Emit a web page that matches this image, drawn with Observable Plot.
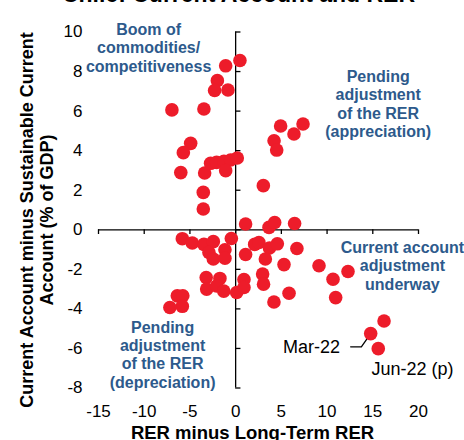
<!DOCTYPE html>
<html><head><meta charset="utf-8">
<script src="https://cdn.jsdelivr.net/npm/d3@7"></script>
<script src="https://cdn.jsdelivr.net/npm/@observablehq/plot@0.6"></script>
<style>body{margin:0;background:#fff}#chart svg{display:block}</style>
</head><body><div id="chart"></div>
<script>
// RER minus long-term RER (x) and CA minus sustainable CA (y)
const rerGap = [0.47,-1.09,-2.0,-2.3,-0.84,-6.97,-3.47,-4.92,-5.72,-6.0,-3.39,-2.74,-2.08,-1.28,-0.55,0.18,-1.09,-3.54,-3.54,
  4.92,7.37,6.38,4.2,4.49,3.03,1.09,3.65,4.27,6.45,
  -5.83,-4.74,-3.47,-2.44,-2.92,-1.17,-2.44,-1.17,-0.47,-3.22,-1.72,-3.17,-2.08,-1.3,0.11,-6.38,-5.78,-5.83,-7.19,
  1.09,2.08,2.55,3.7,4.56,6.7,3.25,5.29,9.12,12.29,10.65,10.94,0.91,0.91,2.95,3.05,5.84,4.19,16.23,14.77,15.6];
const caGap = [8.56,8.29,7.54,7.04,7.07,6.06,6.11,4.37,3.9,2.89,2.87,3.36,3.41,3.46,3.53,3.63,2.99,1.89,1.05,
  5.25,5.35,4.84,4.5,4.03,2.23,0.29,0.12,0.37,0.32,
  -0.45,-0.67,-0.74,-0.6,-1.15,-1.01,-1.48,-1.44,-0.44,-2.41,-2.46,-3.0,-2.84,-3.1,-3.17,-3.34,-3.34,-3.87,-3.93,
  -1.25,-0.74,-0.64,-0.92,-0.71,-0.95,-1.48,-1.76,-1.82,-2.11,-2.5,-3.43,-2.52,-2.92,-2.24,-2.75,-3.21,-3.65,-4.61,-5.25,-6.01];
const xTicks = [-15,-10,-5,0,5,10,15,20];
const yTicks = [-8,-6,-4,-2,0,2,4,6,8,10];

const quadText = ["Boom of\ncommodities/\ncompetitiveness","Pending\nadjustment\nof the RER\n(appreciation)","Current account\nadjustment\nunderway","Pending\nadjustment\nof the RER\n(depreciation)"];
const quadX = [-9.52, 15.59, 18.24, -7.99];
const quadY = [9.23, 6.38, -1.80, -6.30];

const marLabel = ["Mar-22"];
const marLabelX = [11.41];
const marLabelY = [-5.92];
const junLabel = ["Jun-22 (p)"];
const junLabelX = [14.85];
const junLabelY = [-7.04];
const leaderX = [14.77, 13.75, 12.58];
const leaderY = [-5.25, -5.92, -5.92];

const title = "Chile: Current Account and RER";
const xTitle = "RER minus Long-Term RER";
const yTitle = "Current Account minus Sustainable Current\nAccount (% of GDP)";

const points = rerGap.map((x, i) => ({x, y: caGap[i]}));
const quads = quadText.map((t, i) => ({t, x: quadX[i], y: quadY[i]}));
const marData = marLabel.map((t, i) => ({t, x: marLabelX[i], y: marLabelY[i]}));
const junData = junLabel.map((t, i) => ({t, x: junLabelX[i], y: junLabelY[i]}));
const leader = leaderX.map((x, i) => ({x, y: leaderY[i]}));

const font = "'Liberation Sans', Arial, sans-serif";
const blue = "#2D5A8C";
const red = "#ED1C2A";

const chart = Plot.plot({
  width: 464, height: 440,
  marginLeft: 98, marginRight: 46, marginTop: 31.5, marginBottom: 52.5,
  style: {fontFamily: font, color: "#000", background: "#fff"},
  x: {domain: [-15, 20], label: null},
  y: {domain: [-8, 10], label: null},
  marks: [
    Plot.axisX(xTicks, {tickSize: 0, tickPadding: 17, tickFormat: d => String(d), fontSize: 17, label: null}),
    Plot.axisY(yTicks, {tickSize: 0, tickPadding: 16, tickFormat: d => String(d), fontSize: 17, label: null}),
    Plot.ruleX([0], {stroke: "#000", strokeWidth: 1.3}),
    Plot.ruleY([0], {stroke: "#000", strokeWidth: 1.3}),
    Plot.ruleY(yTicks, {y: d => d, x1: 0, x2: 0.58, stroke: "#000", strokeWidth: 1.3}),
    Plot.ruleX(xTicks, {x: d => d, y1: 0, y2: -0.24, stroke: "#000", strokeWidth: 1.3}),
    Plot.line(leader, {x: "x", y: "y", stroke: "#000", strokeWidth: 1.3}),
    Plot.dot(points, {x: "x", y: "y", r: 6.8, fill: red, stroke: "none"}),
    Plot.text(quads, {x: "x", y: "y", text: "t", fill: blue, fontSize: 16, fontWeight: "bold", lineHeight: 1.15, textAnchor: "middle", lineAnchor: "middle"}),
    Plot.text(marData, {x: "x", y: "y", text: "t", textAnchor: "end", fontSize: 18, fill: "#000"}),
    Plot.text(junData, {x: "x", y: "y", text: "t", textAnchor: "start", fontSize: 18, fill: "#000"}),
    Plot.text([title], {frameAnchor: "top", lineAnchor: "bottom", dx: -20, dy: -30.5, fontSize: 23, fontWeight: "bold", fill: "#000"}),
    Plot.text([xTitle], {frameAnchor: "bottom", lineAnchor: "bottom", dx: -6, dy: 50.5, fontSize: 18.5, fontWeight: "bold", fill: "#000"}),
    Plot.text([yTitle], {frameAnchor: "left", rotate: -90, textAnchor: "middle", lineAnchor: "middle", dx: -61.5, dy: 10, fontSize: 18, fontWeight: "bold", lineHeight: 1.11, fill: "#000"})
  ]
});
document.getElementById("chart").appendChild(chart);
</script>
</body></html>
